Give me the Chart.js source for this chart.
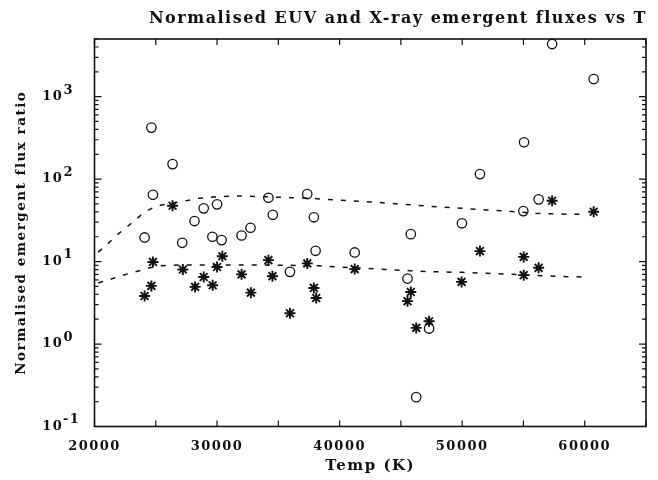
<!DOCTYPE html>
<html><head><meta charset="utf-8">
<script src="https://cdn.jsdelivr.net/npm/chart.js@4/dist/chart.umd.min.js"></script>
<style>html,body{margin:0;padding:0;background:#fff}#wrap{width:658px;height:480px}</style>
</head><body><div id="wrap"><canvas id="c" width="658" height="480"></canvas></div>
<script>
// Observed stars: EUV (circles) and X-ray (asterisks) normalised emergent flux ratios
const circlesT = [24090, 24640, 24770, 26370, 27160, 28160, 28910, 29620, 30000, 30370, 32000, 32730, 34190, 34550, 35950, 37360, 37900, 38040, 41230, 45540, 45810, 46250, 47300, 49980, 51450, 54990, 55050, 56240, 57340, 60730];
const circlesV = [19.6, 421, 64.6, 152, 16.9, 31.0, 44.2, 20.0, 49.4, 18.2, 20.7, 25.7, 59.4, 36.9, 7.5, 65.9, 34.4, 13.5, 12.9, 6.22, 21.5, 0.227, 1.54, 29.1, 115, 40.9, 280, 56.8, 4345, 1633];
const starsT = [24090, 24640, 24770, 26370, 27210, 28210, 28910, 29640, 30000, 30430, 32000, 32760, 34190, 34520, 35950, 37360, 37900, 38090, 41230, 45540, 45810, 46250, 47300, 49950, 51450, 55020, 55020, 56240, 57340, 60730];
const starsV = [3.83, 5.07, 9.9, 47.5, 8.0, 4.93, 6.5, 5.16, 8.6, 11.6, 7.0, 4.2, 10.4, 6.65, 2.36, 9.5, 4.79, 3.62, 8.1, 3.31, 4.28, 1.57, 1.89, 5.67, 13.4, 11.4, 6.84, 8.4, 54.7, 40.2];
// Model curves (dashed)
const modelT = [20300, 21000, 22000, 23000, 24000, 25000, 26000, 27000, 28500, 30000, 32000, 34000, 36000, 38000, 40000, 42000, 44000, 46000, 48000, 50000, 52000, 54000, 56000, 58000, 60000];
const modelUpper = [13, 16, 22, 29, 39, 47, 50, 53, 58.5, 61.3, 62.5, 61, 59.6, 58, 55.5, 53.5, 51, 48.5, 46, 44.2, 42.3, 40.5, 38.5, 37.7, 37.3];
const modelLower = [5.5, 5.9, 6.6, 7.3, 8.0, 8.8, 9.0, 9.1, 9.1, 9.1, 9.1, 9.1, 9.0, 8.9, 8.6, 8.3, 8.0, 7.7, 7.5, 7.4, 7.2, 7.0, 6.8, 6.6, 6.5];
// Tick labels
const xTickLabels = [20000, 30000, 40000, 50000, 60000];
const yTickValues = [0.1, 1, 10, 100, 1000];
const yTickExponents = ['-1', '0', '1', '2', '3'];

const FONT = 'DejaVu Serif';
const INK = '#111';

const spacingPlugin = {
  id: 'spacing',
  beforeUpdate(chart) { chart.ctx.letterSpacing = '1.5px'; },
  beforeDraw(chart) { chart.ctx.letterSpacing = '1.5px'; }
};

const framePlugin = {
  id: 'frame',
  afterDatasetsDraw(chart) {
    const {ctx, chartArea: a, scales: {x, y}} = chart;
    ctx.save();
    ctx.strokeStyle = INK;
    ctx.lineWidth = 1.6;
    ctx.strokeRect(a.left, a.top, a.right - a.left, a.bottom - a.top);
    ctx.lineWidth = 1.2;
    ctx.beginPath();
    x.ticks.forEach(t => {
      const px = x.getPixelForValue(t.value);
      ctx.moveTo(px, a.bottom); ctx.lineTo(px, a.bottom - 6);
      ctx.moveTo(px, a.top); ctx.lineTo(px, a.top + 6);
    });
    for (let d = -1; d <= 3; d++) {
      for (let m = 1; m <= 9; m++) {
        const v = m * Math.pow(10, d);
        if (v < y.min || v > y.max) continue;
        const py = y.getPixelForValue(v);
        const len = m === 1 ? 7 : 4;
        ctx.moveTo(a.left, py); ctx.lineTo(a.left + len, py);
        ctx.moveTo(a.right, py); ctx.lineTo(a.right - len, py);
      }
    }
    ctx.stroke();
    ctx.restore();
  }
};

const pts = (xs, ys) => xs.map((t, i) => ({x: t, y: ys[i]}));

new Chart(document.getElementById('c'), {
  type: 'scatter',
  data: {
    datasets: [
      {label: 'Model EUV', data: pts(modelT, modelUpper), showLine: true, borderColor: INK, borderWidth: 1.5, borderDash: [5, 8], pointRadius: 0, fill: false, tension: 0},
      {label: 'Model X-ray', data: pts(modelT, modelLower), showLine: true, borderColor: INK, borderWidth: 1.5, borderDash: [5, 8], pointRadius: 0, fill: false, tension: 0},
      {label: 'EUV', data: pts(circlesT, circlesV), pointStyle: 'circle', pointRadius: 4.7, borderColor: INK, borderWidth: 1.3, backgroundColor: 'rgba(255,255,255,0)'},
      {label: 'X-ray', data: pts(starsT, starsV), pointStyle: 'star', pointRadius: 5.5, borderColor: INK, borderWidth: 1.9, backgroundColor: INK}
    ]
  },
  options: {
    responsive: false,
    devicePixelRatio: 1,
    animation: false,
    events: [],
    layout: {padding: {left: 0, right: 11, top: 0, bottom: 0}},
    plugins: {
      legend: {display: false},
      tooltip: {enabled: false},
      title: {
        display: true,
        text: 'Normalised EUV and X-ray emergent fluxes vs T',
        align: 'end',
        color: INK,
        font: {family: FONT, size: 16, weight: 'bold'},
        padding: {top: 9, bottom: 10.8}
      }
    },
    scales: {
      x: {
        type: 'linear',
        min: 20000, max: 65000,
        grid: {display: false, drawTicks: false},
        border: {display: false},
        afterFit: s => { s.height = 53.5; },
        ticks: {
          stepSize: 5000, autoSkip: false, maxRotation: 0, padding: 12,
          color: INK, font: {family: FONT, size: 13, weight: 'bold'},
          callback: v => xTickLabels.includes(v) ? String(v) : ''
        },
        title: {display: true, text: 'Temp (K)', color: INK, font: {family: FONT, size: 15, weight: 'bold'}, padding: {top: 0, bottom: 5}}
      },
      y: {
        type: 'logarithmic',
        min: 0.1, max: 5000,
        grid: {display: false, drawTicks: false},
        border: {display: false},
        afterBuildTicks: s => { s.ticks = yTickValues.map(v => ({value: v})); },
        afterFit: s => { s.width = 94.5; },
        ticks: {
          autoSkip: false, padding: 10, labelOffset: -3.25,
          color: INK, font: {family: FONT, size: 13, weight: 'bold', lineHeight: 0.5},
          callback: (v, i) => {
            const e = yTickExponents[i];
            const top = e.length > 1 ? e + '\u2009' : e + '\u2007';
            return [top, '10\u2007\u2007'];
          }
        },
        title: {display: true, text: 'Normalised emergent flux ratio', color: INK, font: {family: FONT, size: 13.5, weight: 'bold'}, padding: {top: 13, bottom: 0}}
      }
    }
  },
  plugins: [spacingPlugin, framePlugin]
});
</script>
</body></html>
